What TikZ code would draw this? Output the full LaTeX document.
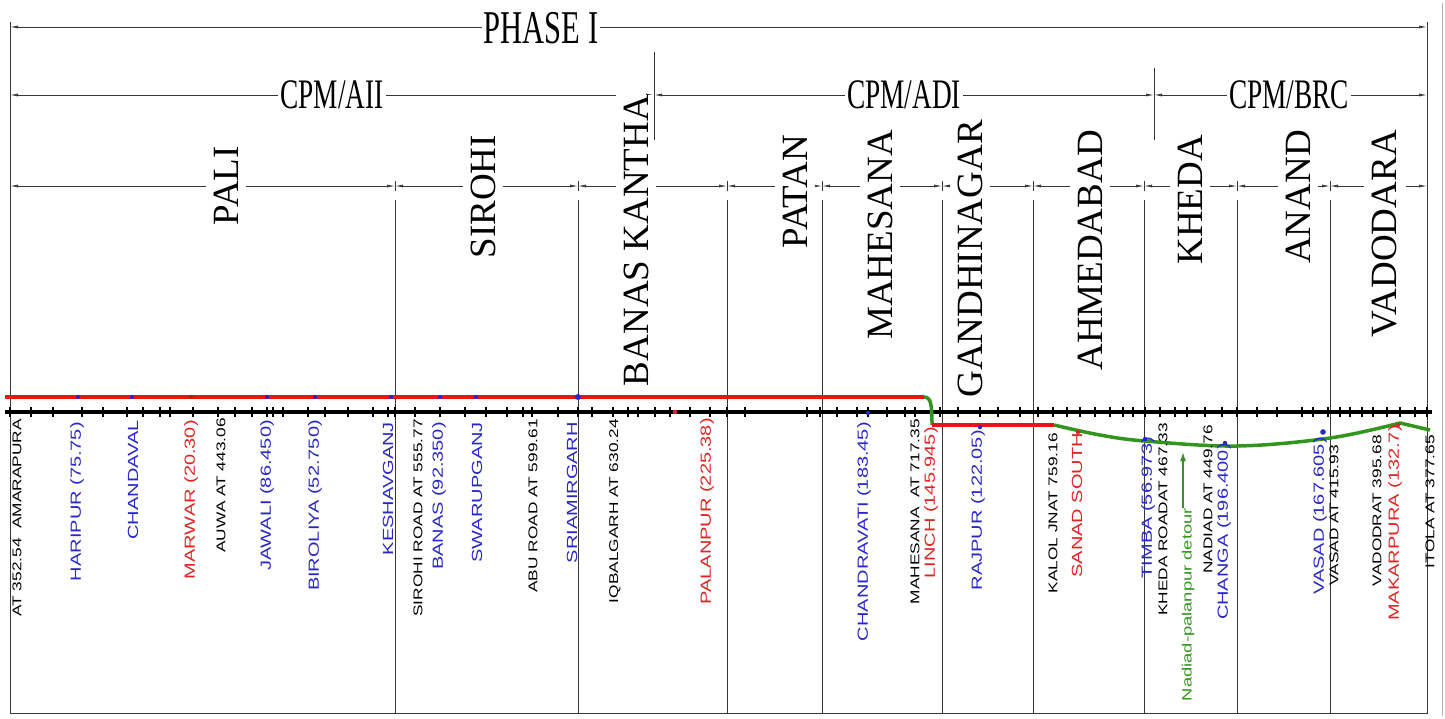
\documentclass[tikz,border=0pt]{standalone}
\usepackage{fontspec}
\setmainfont{Liberation Serif}
\newfontfamily\stnfont[FakeStretch=1.36]{Liberation Sans}
\newfontfamily\hdrfont[FakeStretch=0.65]{Liberation Serif}
\usetikzlibrary{arrows.meta}
\definecolor{stnblue}{RGB}{40,40,200}
\definecolor{stnred}{RGB}{225,35,35}
\definecolor{trackred}{RGB}{235,20,20}
\definecolor{detourgreen}{RGB}{50,150,30}
\definecolor{dimgray}{RGB}{55,55,55}
\tikzset{
  dim/.style={dimgray, line width=0.8pt, {Latex[length=8pt,width=3pt]}-{Latex[length=8pt,width=3pt]}},
  sep/.style={dimgray, line width=0.7pt},
  hdr/.style={fill=white, inner sep=2pt, font=\hdrfont\fontsize{42}{42}\selectfont},
  rgn/.style={rotate=90, anchor=east, fill=white, inner xsep=0pt, inner ysep=8pt, font=\fontsize{37}{37}\selectfont},
  stn/.style={rotate=90, anchor=east, inner sep=0pt}
}
\begin{document}
\begin{tikzpicture}[x=1pt, y=-1pt]
\useasboundingbox (0,0) rectangle (1445,719);

\coordinate (p0) at (10,27);
\coordinate (p1) at (1427,27);
\foreach \n/\x in {0/10, 1/654, 2/1154, 3/1427}
  \coordinate (c\n) at (\x,95);
\foreach \n/\x in {0/10, 1/395, 2/578, 3/727, 4/822, 5/942, 6/1033, 7/1144, 8/1237, 9/1330, 10/1427}
  \coordinate (d\n) at (\x,186);

\path
(p0) edge[dim] (p1)
(c0) edge[dim] (c1)
(c1) edge[dim] (c2)
(c2) edge[dim] (c3);
\foreach \n [evaluate=\n as \m using int(\n+1)] in {0,...,9}
  \path (d\n) edge[dim] (d\m);

\node (phase) [hdr, font=\hdrfont\fontsize{47}{47}\selectfont] at (541,28) {PHASE I};
\node (cpmaii) [hdr] at (332,95) {CPM/AII};
\node (cpmadi) [hdr] at (904,95) {CPM/ADI};
\node (cpmbrc) [hdr] at (1289,95) {CPM/BRC};

\node (pali) [rgn] at (226,146) {PALI};
\node (sirohi) [rgn] at (483,135) {SIROHI};
\node (banas) [rgn] at (636,95) {BANAS KANTHA};
\node (patan) [rgn] at (795,135) {PATAN};
\node (mahesana) [rgn] at (880,130) {MAHESANA};
\node (gandhinagar) [rgn] at (970,120) {GANDHINAGAR};
\node (ahmedabad) [rgn] at (1090,130) {AHMEDABAD};
\node (kheda) [rgn] at (1190,135) {KHEDA};
\node (anand) [rgn] at (1298,130) {ANAND};
\node (vadodara) [rgn] at (1385,130) {VADODARA};

\draw[sep] (10,22) -- (10,713) -- (1427,713) -- (1427,22);
\draw[sep] (654,52) -- (654,140);
\draw[sep] (1154,68) -- (1154,140);
\foreach \x in {395,578,727,822,942,1033,1144,1237,1330} {
  \draw[sep] (\x,181) -- (\x,191);
  \draw[sep] (\x,200) -- (\x,713);
}
\draw[gray!60, line width=0.6pt] (1442,3) -- (1442,716);

\draw[trackred, line width=4pt] (5,397) -- (924,397);
\draw[black, line width=4.5pt] (5,412) -- (1432,412);
\foreach \x in {10,31,53,82,103,127,143,160,170,193,218,235,252,267,273,283,308,325,348,
  373,388,395,415,440,465,486,507,523,532,558,578,592,613,628,638,655,670,690,710,
  727,745,807,820,837,857,868,887,905,915,940,958,980,998,1020,1038,1053,1067,
  1080,1095,1110,1123,1133,1145,1160,1175,1187,1205,1222,1237,1257,1277,1302,1313,
  1328,1340,1350,1362,1373,1387,1400,1415,1427}
  \draw[line width=1.2pt] (\x,407) -- (\x,417);
\draw[detourgreen, line width=3.5pt] (924,397) .. controls (931,397) and (932,405) .. (932,425);
\draw[trackred, line width=3.5pt] (932,425) -- (1054,425);
\draw[detourgreen, line width=3.5pt] plot[smooth, tension=0.6] coordinates {(1054,425) (1100,435) (1145,441) (1237,446) (1330,438) (1400,423)} -- (1430,430);

\foreach \x in {78,132,267,315,391,440,476}
  \fill[stnblue] (\x,397) circle (2.2);
\fill[stnred!80!black] (191,397) circle (2.2);
\fill[stnblue] (578,397) circle (3);
\fill[stnred] (675,412) circle (2.2);
\foreach \x/\y in {868/413, 980/427, 1145/439, 1225/443}
  \fill[stnblue] (\x,\y) circle (2.2);
\fill[stnblue] (1323,432) circle (2.8);
\fill[stnred] (1078,432) circle (2.2);
\fill[stnred] (1398,425) circle (2.2);

\foreach \x/\y/\c/\sz/\t [count=\i] in {
  17/419/black/12.7/AT 352.54~ AMARAPURA,
  77/422/stnblue/14.7/HARIPUR (75.75),
  133/420/stnblue/14.7/CHANDAVAL,
  191/420/stnred/14.7/MARWAR (20.30),
  221/418/black/12.7/AUWA AT 443.06,
  267/420/stnblue/14.7/JAWALI (86.450),
  315/420/stnblue/14.7/BIROLIYA (52.750),
  388/422/stnblue/14.7/KESHAVGANJ,
  418/419/black/12.7/SIROHI ROAD AT 555.77,
  439/422/stnblue/14.7/BANAS (92.350),
  477/422/stnblue/14.7/SWARUPGANJ,
  533/419/black/12.7/ABU ROAD AT 599.61,
  572/422/stnblue/14.7/SRIAMIRGARH,
  615/419/black/12.7/IQBALGARH AT 630.24,
  707/418/stnred/14.7/PALANPUR (225.38),
  864/422/stnblue/14.7/CHANDRAVATI (183.45),
  915/419/black/12.7/MAHESANA~ AT 717.35,
  931/427/stnred/14.7/LINCH (145.945),
  978/430/stnblue/14.7/RAJPUR (122.05),
  1053/433/black/12.7/KALOL JNAT 759.16,
  1077/433/stnred/14.7/SANAD SOUTH,
  1148/437/stnblue/14.7/TIMBA (56.973),
  1163/423/black/12.7/KHEDA ROADAT 467.33,
  1208/425/black/12.7/NADIAD AT 449.76,
  1224/443/stnblue/14.7/CHANGA (196.400),
  1320/437/stnblue/14.7/VASAD (167.605),
  1334/445/black/12.7/VASAD AT 415.93,
  1377/435/black/12.7/VADODRAT 395.68,
  1395/425/stnred/14.7/MAKARPURA (132.7),
  1430/435/black/12.7/ITOLA AT 377.65}
  \node (s\i) [stn, text=\c, font=\stnfont\fontsize{\sz}{\sz}\selectfont] at (\x,\y) {\t};

\node (detour) [stn, text=detourgreen, font=\stnfont\fontsize{13.5}{14}\selectfont] at (1188,508) {Nadiad-palanpur detour};
\coordinate (dtip) at (1183,452);
\draw[detourgreen, line width=1.5pt, -{Latex[length=9pt,width=6pt]}] (detour.east -| dtip) -- (dtip);
\end{tikzpicture}
\end{document}
